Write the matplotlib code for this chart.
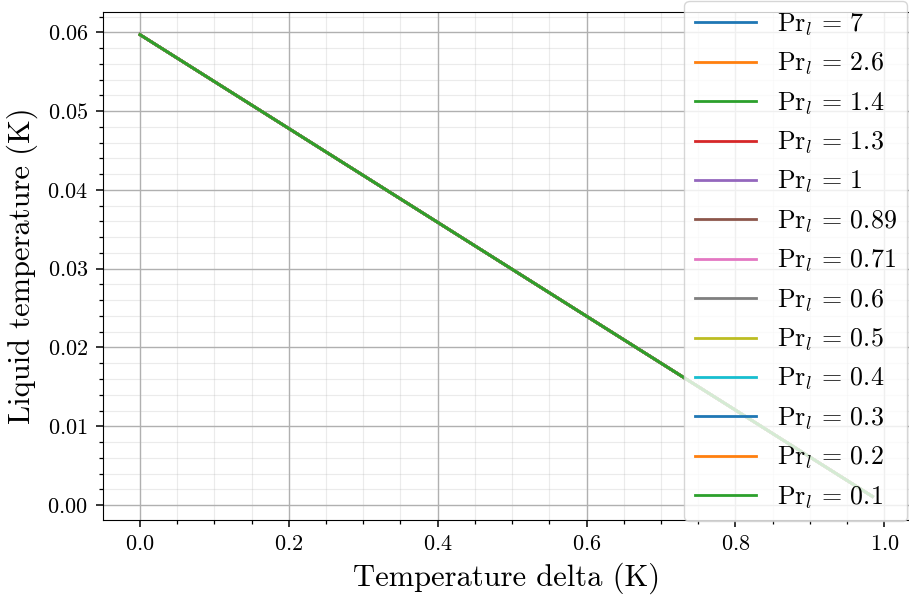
import numpy as np
import matplotlib
matplotlib.use('Agg')
import matplotlib.pyplot as plt
from matplotlib.ticker import MultipleLocator

plt.rcParams['font.family'] = 'serif'
plt.rcParams['font.serif'] = ['cmr10']
plt.rcParams['mathtext.fontset'] = 'cm'
plt.rcParams['axes.formatter.use_mathtext'] = True

# Prandtl numbers of the liquid, one curve each
pr_values = ['7', '2.6', '1.4', '1.3', '1', '0.89', '0.71', '0.6', '0.5', '0.4', '0.3', '0.2', '0.1']

# all curves fall on top of each other
delta_T = np.array([0.0, 0.984])
T_liquid = np.array([0.0597, 0.0011])

fig = plt.figure(figsize=(9.09, 5.99), dpi=100)
ax = fig.add_axes([0.1137, 0.1327, 0.8863, 0.848])

for pr in pr_values:
    ax.plot(delta_T, T_liquid, lw=2, label=r'$\mathrm{Pr}_l \,=\, ' + pr + '$')

ax.xaxis.set_minor_locator(MultipleLocator(0.05))
ax.yaxis.set_minor_locator(MultipleLocator(0.002))
ax.yaxis.set_major_locator(MultipleLocator(0.01))
ax.grid(which='major', color='#b0b0b0', lw=1)
ax.grid(which='minor', color='#b0b0b0', lw=0.8, alpha=0.25)
ax.tick_params(which='major', labelsize=16, length=5, width=1.1, pad=6)
ax.tick_params(which='minor', length=3, width=0.9)

ax.set_xlabel('Temperature delta (K)', fontsize=22, labelpad=6)
ax.set_ylabel('Liquid temperature (K)', fontsize=22, labelpad=7)

fig.legend(loc='upper right', bbox_to_anchor=(907/909, 1 - 1/599), fontsize=18.7,
           borderaxespad=0, handlelength=2.35)

plt.savefig('out.png', dpi=100)
